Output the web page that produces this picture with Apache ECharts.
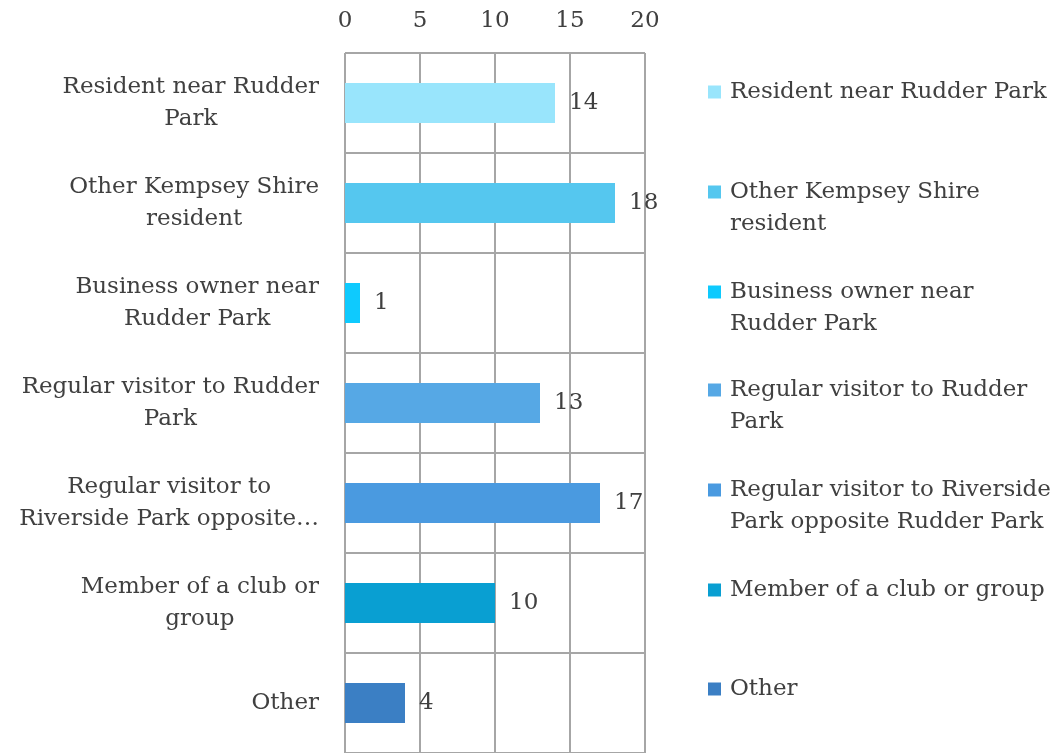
<!DOCTYPE html>
<html><head><meta charset="utf-8">
<script src="https://cdn.jsdelivr.net/npm/echarts@6/dist/echarts.min.js"></script>
<style>html,body{margin:0;padding:0;background:#fff}#c{width:1058px;height:753px}</style>
</head><body><div id="c"></div>
<script>
const categories = ["Resident near Rudder Park","Other Kempsey Shire resident","Business owner near Rudder Park","Regular visitor to Rudder Park","Regular visitor to Riverside Park opposite Rudder Park","Member of a club or group","Other"];
const values = [14, 18, 1, 13, 17, 10, 4];
const colors = ["#99E5FC","#55C7EF","#0ECAFE","#56A8E5","#4A9AE0","#099FD2","#3B7FC4"];
const axisLabelLines = [["Resident near Rudder","Park"],["Other Kempsey Shire","resident"],["Business owner near","Rudder Park"],["Regular visitor to Rudder","Park"],["Regular visitor to","Riverside Park opposite…"],["Member of a club or","group"],["Other"]];
const legendLines = [["Resident near Rudder Park"],["Other Kempsey Shire","resident"],["Business owner near","Rudder Park"],["Regular visitor to Rudder","Park"],["Regular visitor to Riverside","Park opposite Rudder Park"],["Member of a club or group"],["Other"]];
const xTicks = {min:0, max:20, interval:5};

const FONT = "DejaVu Serif";
const FS = 23;
const TXT = "#404040";
const LH = 32;
const legendCenters = [92,192,292,390,490,590,689];

const series = categories.map((name,i)=>({
  name, type:'bar', stack:'all', barWidth:'40%',
  itemStyle:{color:colors[i]},
  data: values.map((v,j)=> j===i ? v : '-'),
  label:{show:true, position:'right', distance:14, color:TXT, fontFamily:FONT, fontSize:FS}
}));

const legends = categories.map((name,i)=>{
  const n = legendLines[i].length;
  const c = legendCenters[i];
  return {
    show:true, orient:'vertical', left:708, top: n>1 ? c-48 : c-16, padding:0,
    itemWidth:13, itemHeight:13, icon:'rect',
    data:[{name}],
    formatter: nm => { const ls = legendLines[categories.indexOf(nm)]; return (ls.length>1 ? '\n' : '') + ls.join('\n'); },
    textStyle:{fontFamily:FONT, fontSize:FS, color:TXT, lineHeight:LH, padding:[0,0,0,4]},
    selectedMode:false
  };
});

const chart = echarts.init(document.getElementById('c'));
chart.setOption({
  animation:false,
  backgroundColor:'#fff',
  grid:{left:345, right:413, top:53, bottom:-4, containLabel:false},
  legend: legends,
  xAxis:{type:'value', position:'top', min:xTicks.min, max:xTicks.max, interval:xTicks.interval,
    axisLine:{show:false}, axisTick:{show:false},
    axisLabel:{fontFamily:FONT, fontSize:FS, color:TXT, margin:20},
    splitLine:{show:true, lineStyle:{color:'#A6A6A6', width:2}}},
  yAxis:{type:'category', inverse:true, data:categories,
    axisLine:{show:false}, axisTick:{show:false},
    splitLine:{show:true, lineStyle:{color:'#A6A6A6', width:2}},
    axisLabel:{align:'right', margin:26, interval:0,
      formatter:(v)=> axisLabelLines[categories.indexOf(v)].map(l=>'{c|'+l+'}').join('\n'),
      rich:{c:{align:'center', fontFamily:FONT, fontSize:FS, color:TXT, lineHeight:LH}}}},
  series
});
</script></body></html>
